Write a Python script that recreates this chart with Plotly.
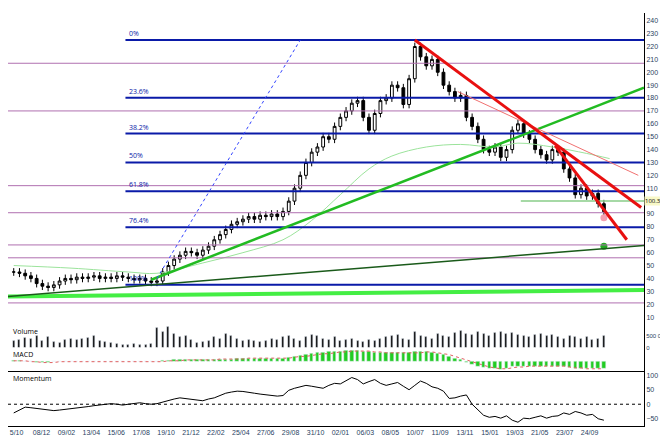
import numpy as np
import plotly.graph_objects as go

close = [45, 44, 42, 40, 36, 34, 33, 35, 38, 40, 39, 41, 40, 41, 42, 40, 41, 40, 42, 41, 40, 39, 40, 38,
         37, 38, 45, 50, 55, 58, 61, 60, 58, 62, 65, 70, 74, 78, 82, 84, 86, 88, 86, 89, 88, 90, 88, 92,
         100, 110, 120, 130, 138, 142, 150, 148, 158, 165, 170, 176, 178, 165, 155, 168, 178, 180, 190, 188,
         175, 195, 220, 212, 205, 210, 200, 190, 185, 180, 182, 165, 158, 148, 140, 138, 142, 134, 140, 155,
         160, 152, 148, 140, 136, 132, 140, 138, 125, 118, 105, 110, 104, 106, 98, 92]
volume = [300, 350, 420, 380, 500, 300, 450, 250, 200, 350, 400, 320, 380, 420, 500, 300, 250, 200, 150, 120,
          100, 150, 120, 100, 150, 850, 700, 900, 600, 450, 500, 350, 200, 250, 300, 450, 400, 600, 500, 400,
          300, 350, 300, 250, 300, 400, 350, 450, 500, 400, 300, 450, 550, 500, 400, 350, 450, 300, 350, 400,
          300, 250, 350, 300, 400, 450, 500, 550, 400, 350, 700, 500, 450, 400, 600, 500, 450, 650, 750, 600,
          550, 700, 600, 500, 650, 700, 600, 650, 550, 500, 450, 550, 600, 500, 550, 450, 400, 500, 450, 400,
          450, 350, 400, 500]
macd = [1, 1, 0, 0, -1, -1, -1, 0, 0, 0, 0, 0, 0, 0, 0, 0, 0, 0, 0, 0, 0, 0, 0, 0, 0, 0, 1, 1, 2, 2, 2, 2, 2,
        2, 2, 3, 3, 3, 3, 4, 4, 4, 4, 4, 4, 4, 4, 4, 5, 6, 7, 8, 9, 10, 10, 11, 12, 12, 13, 13, 13, 12, 11, 10,
        10, 10, 10, 10, 10, 10, 11, 11, 11, 10, 9, 8, 6, 4, 2, -1, -3, -5, -7, -8, -8, -9, -8, -6, -5, -5, -5,
        -5, -5, -6, -5, -5, -6, -7, -8, -8, -8, -8, -8, -8]
signal = [1, 1, 1, 0, 0, -1, -1, -1, 0, 0, 0, 0, 0, 0, 0, 0, 0, 0, 0, 0, 0, 0, 0, 0, 0, 0, 0, 1, 1, 1, 2, 2, 2,
          2, 2, 2, 3, 3, 3, 3, 3, 4, 4, 4, 4, 4, 4, 4, 4, 5, 6, 6, 7, 8, 9, 9, 10, 11, 11, 12, 12, 12, 12, 11,
          11, 10, 10, 10, 10, 10, 10, 10, 11, 11, 10, 9, 8, 6, 4, 2, 0, -2, -4, -6, -7, -8, -8, -7, -6, -6, -5,
          -5, -5, -5, -5, -5, -5, -6, -7, -7, -8, -8, -8, -8]
momentum = [-30, -20, -10, -12, -15, -18, -20, -22, -20, -18, -15, -12, -10, -8, -5, -3, 0, 2, 0, -3, 0, 3, 5,
            2, 0, 2, 8, 12, 18, 22, 20, 18, 15, 12, 18, 22, 30, 38, 42, 45, 44, 40, 38, 35, 32, 30, 28, 30,
            48, 55, 60, 65, 62, 58, 55, 65, 72, 70, 80, 92, 85, 70, 78, 85, 72, 65, 70, 75, 62, 50, 65, 80, 72,
            60, 55, 45, 20, 22, 28, 32, 0, -20, -38, -45, -42, -48, -40, -55, -62, -48, -50, -45, -40, -48, -42,
            -40, -30, -35, -25, -30, -38, -35, -50, -55]
ma_x = [0, 10, 20, 25, 33, 40, 47, 52, 57, 62, 66, 72, 78, 84, 88, 94, 100, 104]
ma_y = [50, 48, 45, 44, 52, 60, 70, 85, 105, 125, 135, 142, 144, 142, 145, 142, 137, 133]
date_labels = ["5/10", "08/12", "09/02", "13/04", "15/06", "17/08", "19/10", "21/12", "22/02", "25/04",
               "27/06", "29/08", "31/10", "02/01", "06/03", "08/05", "10/07", "11/09", "13/11", "15/01",
               "19/03", "21/05", "23/07", "24/09"]
fib_levels = [225, 180.2, 152.4, 130, 107.6, 79.8, 35]
fib_names = ["0%", "23.6%", "38.2%", "50%", "61.8%", "76.4%", "100%"]
purple_levels = [207, 170, 112, 91, 66, 56, 21]

n = len(close)
idx = list(range(n))
opens = [close[0]] + close[:-1]
highs = [max(o, c) + 3 for o, c in zip(opens, close)]
lows = [min(o, c) - 3 for o, c in zip(opens, close)]

fig = go.Figure()
fig.add_trace(go.Candlestick(x=idx, open=opens, high=highs, low=lows, close=close,
                             increasing=dict(line=dict(color="black", width=1), fillcolor="white"),
                             decreasing=dict(line=dict(color="black", width=1), fillcolor="black"),
                             whiskerwidth=0, yaxis="y"))
fig.add_trace(go.Scatter(x=ma_x, y=ma_y, mode="lines", line=dict(color="#9be39b", width=1,
                         shape="spline"), yaxis="y"))
fig.add_trace(go.Bar(x=idx, y=volume, marker_color="black", width=0.35, yaxis="y2"))
fig.add_trace(go.Bar(x=idx, y=macd, marker_color="#22cc22", width=0.6, yaxis="y3"))
fig.add_trace(go.Scatter(x=idx, y=signal, mode="lines", line=dict(color="#e06060", width=1, dash="dot"),
                         yaxis="y3"))
fig.add_trace(go.Scatter(x=idx, y=momentum, mode="lines", line=dict(color="black", width=1), yaxis="y4"))
fig.add_trace(go.Scatter(x=[103, 103], y=[65, 87], mode="markers",
                         marker=dict(color=["#22aa22", "#f4a0b0"], size=7), yaxis="y"))

shapes = []
def seg(x0, y0, x1, y1, color, width, dash="solid"):
    shapes.append(dict(type="line", xref="x", yref="y", x0=x0, y0=y0, x1=x1, y1=y1,
                       line=dict(color=color, width=width, dash=dash)))

for lv in purple_levels:
    seg(-1, lv, 111, lv, "#b070b0", 1)
for lv in fib_levels:
    seg(19.5, lv, 111, lv, "#0a1aa8", 2)
seg(-1, 26, 111, 31, "#44ee44", 4)
seg(-1, 26, 111, 66, "#1a5a1a", 1.5)
seg(24, 39, 110, 188, "#22bb22", 2.5)
seg(25, 40, 50, 225, "#3344ff", 1, "dot")
seg(88.5, 100, 111, 100, "#88cc88", 1.5)
seg(77.5, 185, 109, 120, "#f07070", 1)
seg(70, 225, 109.5, 95, "#e81010", 3)
seg(94.5, 143, 107, 70, "#e81010", 3)
seg(-1, 0, 111, 0, "black", 1, "dot")
shapes[-1].update(yref="y4")

annotations = [dict(x=19.7, y=lv, text=nm, xref="x", yref="y", showarrow=False, xanchor="left",
                    yanchor="bottom", font=dict(size=7, color="#0a1aa8"))
               for lv, nm in zip(fib_levels, fib_names)]
for txt, yd in [("Volume", 0.245), ("MACD", 0.19), ("Momentum", 0.13)]:
    annotations.append(dict(x=0.005, y=yd, xref="paper", yref="paper", text=txt, showarrow=False,
                            xanchor="left", yanchor="top", font=dict(size=7, color="black")))
annotations.append(dict(x=1.0, y=100.3, xref="paper", yref="y", text="100.32", showarrow=False,
                        xanchor="left", bgcolor="#f8f8c8", borderpad=0, font=dict(size=6, color="black")))

axis_common = dict(side="right", showgrid=False, zeroline=False, showline=True, linecolor="black",
                   mirror=True, tickfont=dict(size=7, family="Arial"), ticks="", fixedrange=True)
fig.update_layout(
    width=668, height=438, margin=dict(l=0, r=32, t=5, b=20),
    paper_bgcolor="white", plot_bgcolor="white", showlegend=False, bargap=0,
    shapes=shapes, annotations=annotations,
    xaxis=dict(range=[-1, 110], showgrid=False, zeroline=False, rangeslider=dict(visible=False),
               tickvals=list(np.linspace(0.5, 100.5, 24)), ticktext=date_labels, ticks="",
               tickfont=dict(size=7, family="Arial"), showline=True, linecolor="black", mirror=True,
               anchor="y4"),
    yaxis=dict(domain=[0.245, 1], range=[4, 246], dtick=10, tick0=10, anchor="x", **axis_common),
    yaxis2=dict(domain=[0.19, 0.245], range=[0, 1000], tickvals=[0, 500], ticktext=["0", "500 000"],
                anchor="x", side="right", showgrid=False, zeroline=False, showline=True,
                linecolor="black", mirror=True, tickfont=dict(size=6, family="Arial"), ticks="",
                fixedrange=True),
    yaxis3=dict(domain=[0.13, 0.19], range=[-12, 16], showticklabels=False, anchor="x", **axis_common),
    yaxis4=dict(domain=[0, 0.13], range=[-75, 110], tickvals=[-50, 0, 50, 100], anchor="x",
                **axis_common),
)
fig.write_html("out.html")
